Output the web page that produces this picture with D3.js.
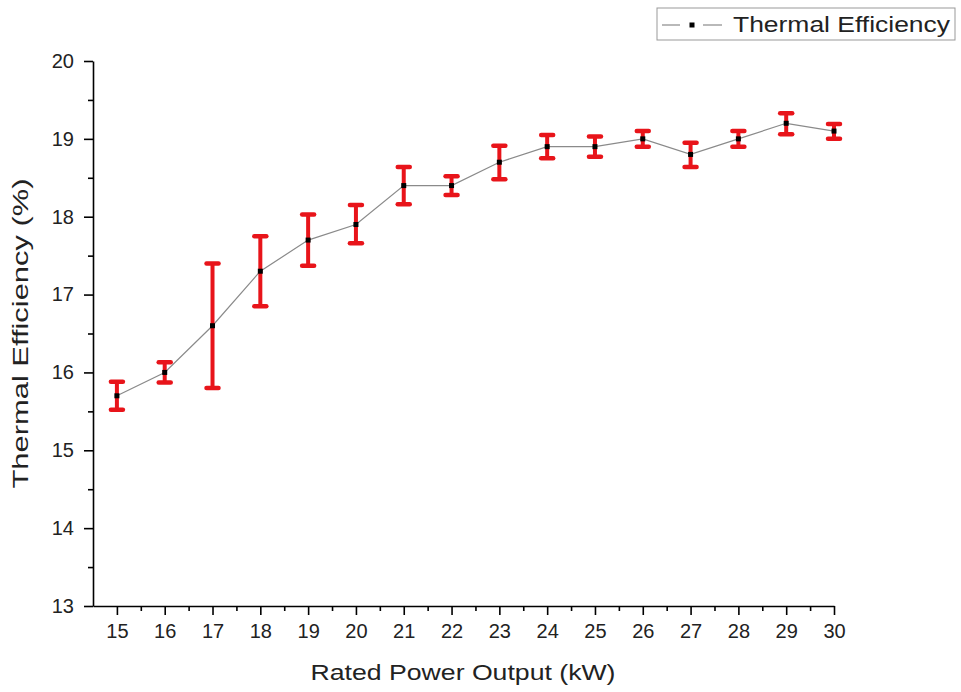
<!DOCTYPE html>
<html>
<head>
<meta charset="utf-8">
<script src="https://cdn.jsdelivr.net/npm/d3@7"></script>
<style>
    body { margin: 0; background: #fff; }
    svg { font-family: "Liberation Sans", Arial, sans-serif; }
    .axis path, .axis line { stroke: #000; stroke-width: 1.6; }
    .axis text { font-size: 20px; fill: #222; }
</style>
</head>
<body>
<div id="chart"></div>
<script>
// power output (kW)
const power = [15, 16, 17, 18, 19, 20, 21, 22, 23, 24, 25, 26, 27, 28, 29, 30];
// thermal efficiency (%)
const efficiency = [15.7, 16.0, 16.6, 17.3, 17.7, 17.9, 18.4, 18.4, 18.7, 18.9, 18.9, 19.0, 18.8, 19.0, 19.2, 19.1];
// error bars (+/-)
const errLow = [0.18, 0.13, 0.8, 0.45, 0.33, 0.24, 0.24, 0.12, 0.22, 0.15, 0.13, 0.1, 0.16, 0.1, 0.14, 0.1];
const errHigh = [0.18, 0.13, 0.8, 0.45, 0.33, 0.25, 0.24, 0.12, 0.21, 0.15, 0.13, 0.1, 0.15, 0.1, 0.13, 0.09];
const yTicks = [13, 14, 15, 16, 17, 18, 19, 20];

const WIDTH = 961, HEIGHT = 692;
const margin = {top: 61, right: 127, bottom: 86, left: 93};
const width = WIDTH - margin.left - margin.right;
const height = HEIGHT - margin.top - margin.bottom;

const data = power.map((p, i) => ({p: p, v: efficiency[i], lo: efficiency[i] - errLow[i], hi: efficiency[i] + errHigh[i]}));

const svg = d3.select("#chart").append("svg")
    .attr("width", WIDTH)
    .attr("height", HEIGHT);

const g = svg.append("g")
    .attr("transform", "translate(" + margin.left + "," + margin.top + ")");

const x = d3.scaleLinear().domain([14.5, 30]).range([0, width]);
const y = d3.scaleLinear().domain([13, 20]).range([height, 0]);

// minor ticks first
g.append("g")
    .attr("class", "axis")
    .attr("transform", "translate(0," + height + ")")
    .call(d3.axisBottom(x).tickValues(d3.range(15.5, 30, 1)).tickSize(5).tickFormat(""))
    .select(".domain").remove();

g.append("g")
    .attr("class", "axis")
    .call(d3.axisLeft(y).tickValues(d3.range(13.5, 20, 1)).tickSize(5).tickFormat(""))
    .select(".domain").remove();

g.append("g")
    .attr("class", "axis x-axis")
    .attr("transform", "translate(0," + height + ")")
    .call(d3.axisBottom(x).tickValues(power).tickSize(9).tickSizeOuter(0).tickPadding(9).tickFormat(d3.format("d")));

g.append("g")
    .attr("class", "axis y-axis")
    .call(d3.axisLeft(y).tickValues(yTicks).tickSize(9).tickSizeOuter(0).tickPadding(10).tickFormat(d3.format("d")));

// connecting line
g.append("path")
    .datum(data)
    .attr("fill", "none")
    .attr("stroke", "#8a8a8a")
    .attr("stroke-width", 1.2)
    .attr("d", d3.line().x(d => x(d.p)).y(d => y(d.v)));

// error bars
const eb = g.selectAll(".err").data(data).enter().append("g").attr("class", "err");
eb.append("line")
    .attr("x1", d => x(d.p)).attr("x2", d => x(d.p))
    .attr("y1", d => y(d.lo)).attr("y2", d => y(d.hi))
    .attr("stroke", "#e8141a").attr("stroke-width", 4);
eb.selectAll(".cap").data(d => [[d.p, d.lo], [d.p, d.hi]]).enter().append("line")
    .attr("class", "cap")
    .attr("x1", d => x(d[0]) - 6).attr("x2", d => x(d[0]) + 6)
    .attr("y1", d => y(d[1])).attr("y2", d => y(d[1]))
    .attr("stroke", "#e8141a").attr("stroke-width", 4.5).attr("stroke-linecap", "round");

// markers
g.selectAll(".pt").data(data).enter().append("rect")
    .attr("class", "pt")
    .attr("x", d => x(d.p) - 2.5).attr("y", d => y(d.v) - 2.5)
    .attr("width", 5).attr("height", 5)
    .attr("fill", "#000");

// axis titles (text in the original is a bit wide, so stretch it)
svg.append("text")
    .attr("x", 463)
    .attr("y", 680)
    .attr("text-anchor", "middle")
    .attr("font-size", 22)
    .attr("fill", "#222")
    .attr("textLength", 305)
    .attr("lengthAdjust", "spacingAndGlyphs")
    .text("Rated Power Output (kW)");

svg.append("text")
    .attr("transform", "translate(28," + (margin.top + y(16.5)) + ") rotate(-90)")
    .attr("text-anchor", "middle")
    .attr("font-size", 22)
    .attr("fill", "#222")
    .attr("textLength", 310)
    .attr("lengthAdjust", "spacingAndGlyphs")
    .text("Thermal Efficiency (%)");

// legend
const leg = svg.append("g").attr("transform", "translate(657,8)");
leg.append("rect")
    .attr("width", 298).attr("height", 32)
    .attr("fill", "#fff").attr("stroke", "#999").attr("stroke-width", 1);
leg.append("line").attr("x1", 5).attr("x2", 23).attr("y1", 17).attr("y2", 17).attr("stroke", "#8a8a8a").attr("stroke-width", 1.2);
leg.append("line").attr("x1", 46).attr("x2", 65).attr("y1", 17).attr("y2", 17).attr("stroke", "#8a8a8a").attr("stroke-width", 1.2);
leg.append("rect").attr("x", 32.5).attr("y", 14.5).attr("width", 5).attr("height", 5).attr("fill", "#000");
leg.append("text")
    .attr("x", 76).attr("y", 24)
    .attr("font-size", 22)
    .attr("fill", "#222")
    .attr("textLength", 217)
    .attr("lengthAdjust", "spacingAndGlyphs")
    .text("Thermal Efficiency");
</script>
</body>
</html>
